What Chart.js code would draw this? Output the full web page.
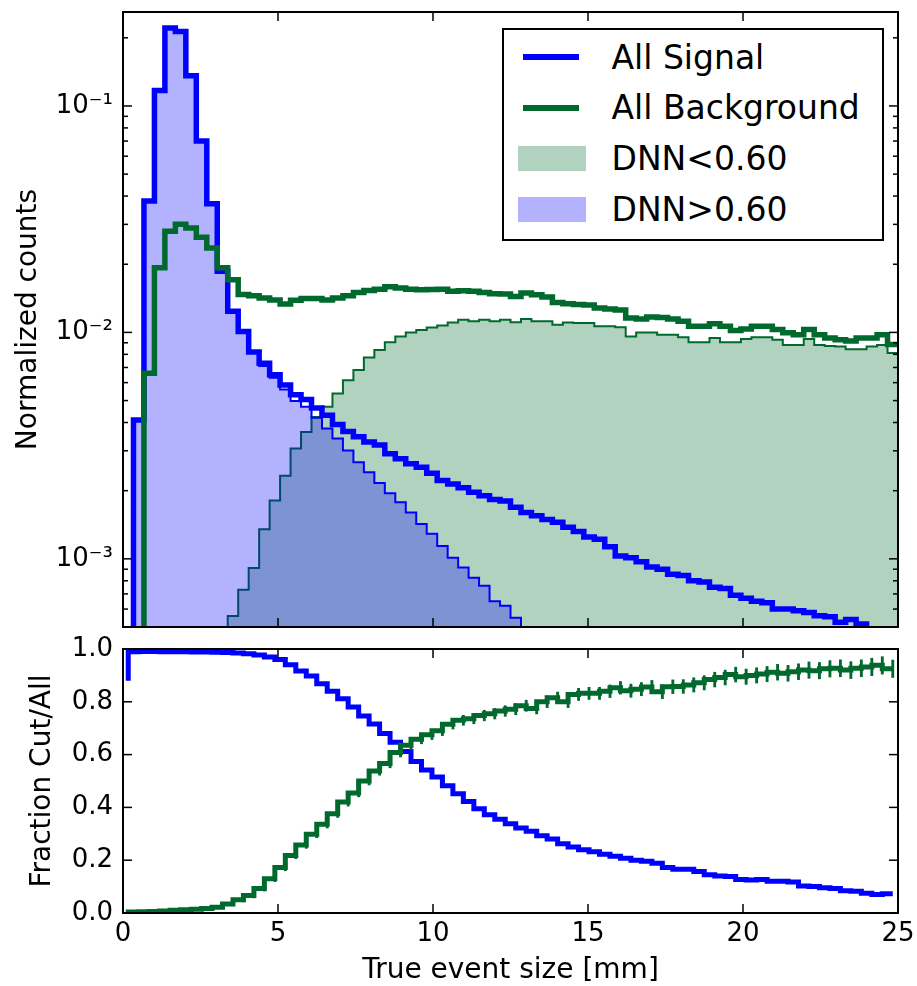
<!DOCTYPE html>
<html>
<head>
<meta charset="utf-8">
<script src="https://cdn.jsdelivr.net/npm/chart.js@4.4.1/dist/chart.umd.min.js"></script>
<style>
  html, body { margin: 0; padding: 0; background: #fff; }
  body { width: 917px; height: 986px; position: relative; overflow: hidden; font-family: 'DejaVu Sans', sans-serif; }
  canvas { position: absolute; left: 0; }
  #countsCanvas { top: 0; }
  #fractionCanvas { top: 626px; }
  #legend { position: absolute; left: 502px; top: 28px; width: 382px; height: 213px; box-sizing: border-box;
            border: 2px solid #000; background: #fff; }
  #legend .swatch { position: absolute; }
  #legend .text { position: absolute; font-family: 'DejaVu Sans', sans-serif; font-size: 33px; line-height: 33px;
                  color: #000; white-space: nowrap; }
</style>
</head>
<body>
<canvas id="countsCanvas" width="917" height="640"></canvas>
<canvas id="fractionCanvas" width="917" height="360"></canvas>
<div id="legend"></div>
<script>
// ---- binning of the true event size (mm) ----
const X_MIN = 0;
const X_MAX = 25;
const N_BINS = 74;

// ---- normalized counts per bin ----
const signalAll = [
  0.00035, 0.0041, 0.038, 0.117, 0.221, 0.213, 0.136, 0.0701, 0.037, 0.0186,
  0.0124, 0.0101, 0.0082, 0.0073, 0.0065, 0.00585, 0.0053, 0.00506, 0.00463, 0.00431,
  0.00392, 0.00365, 0.00346, 0.00328, 0.00318, 0.00291, 0.00277, 0.00263, 0.00254, 0.00239,
  0.00222, 0.00214, 0.00206, 0.00197, 0.0019, 0.00183, 0.0018, 0.00169, 0.0016, 0.00155,
  0.00149, 0.00145, 0.00138, 0.00132, 0.00125, 0.00122, 0.00113, 0.00103, 0.00101, 0.00097,
  0.00092, 0.0009, 0.000855, 0.000845, 0.0008, 0.00079, 0.00075, 0.00074, 0.00069, 0.00067,
  0.00065, 0.00064, 0.0006, 0.0006, 0.00059, 0.00058, 0.00056, 0.000555, 0.000525, 0.00054,
  0.000515, 0.00048, 0.00047, 0.00045
];
const signalCut = [
  0.0003, 0.0041, 0.0379, 0.1168, 0.2205, 0.2125, 0.1357, 0.0699, 0.0368, 0.0185,
  0.0123, 0.00995, 0.0081, 0.0071, 0.0063, 0.0056, 0.00498, 0.0047, 0.0042, 0.00376,
  0.0034, 0.00301, 0.00267, 0.00241, 0.00216, 0.00195, 0.00178, 0.0016, 0.001425, 0.00129,
  0.00114, 0.00101, 0.000915, 0.000826, 0.00076, 0.00065, 0.00062, 0.00055, 0.00048, 0.00045,
  0.00042, 0.00039, 0.00035, 0.00032, 0.0003, 0.00028, 0.00025, 0.00022, 0.00021, 0.00019,
  0.00018, 0.00017, 0.000145, 0.00014, 0.000133, 0.000124, 0.000109, 0.000104, 0.000095, 0.000085,
  0.000081, 0.000081, 0.000072, 0.000072, 0.000069, 0.000059, 0.000056, 0.000053, 0.000049, 0.000045,
  0.000042, 0.000036, 0.000033, 0.000033
];
const backgroundAll = [
  0.0002, 0.0004, 0.0066, 0.0193, 0.028, 0.03, 0.0289, 0.0263, 0.0236, 0.0193,
  0.0171, 0.0147, 0.0145, 0.0142, 0.0139, 0.01335, 0.01385, 0.0141, 0.0141, 0.0139,
  0.0142, 0.0145, 0.015, 0.01532, 0.01552, 0.0159, 0.0157, 0.0155, 0.01542, 0.01545,
  0.01552, 0.0152, 0.01527, 0.0152, 0.015, 0.0148, 0.01478, 0.0144, 0.01492, 0.01467,
  0.01434, 0.01356, 0.01337, 0.01328, 0.0132, 0.0128, 0.0127, 0.01257, 0.01159, 0.01147,
  0.0117, 0.01165, 0.01147, 0.0112, 0.01064, 0.01064, 0.01092, 0.01064, 0.0102, 0.01036,
  0.01064, 0.01064, 0.0103, 0.00997, 0.00977, 0.0103, 0.00977, 0.00944, 0.00927, 0.00917,
  0.00944, 0.00944, 0.00977, 0.00885
];
const backgroundCut = [
  0.000001, 0.000002, 0.00003, 0.0001, 0.00017, 0.00022, 0.00027, 0.0003, 0.00034, 0.00039,
  0.000559, 0.00073, 0.00091, 0.00135, 0.00181, 0.00233, 0.00307, 0.00363, 0.00423, 0.00469,
  0.00537, 0.00615, 0.00682, 0.00774, 0.00836, 0.00904, 0.00958, 0.00998, 0.01026, 0.0105,
  0.01072, 0.01105, 0.01136, 0.0112, 0.01136, 0.0112, 0.01136, 0.0111, 0.01147, 0.0112,
  0.0112, 0.0108, 0.01105, 0.011, 0.011, 0.01064, 0.01064, 0.01055, 0.00958, 0.00998,
  0.00998, 0.00977, 0.00977, 0.00953, 0.00904, 0.00904, 0.00944, 0.00904, 0.00904, 0.00934,
  0.00953, 0.00953, 0.00927, 0.0088, 0.0088, 0.00934, 0.0088, 0.0087, 0.00866, 0.00843,
  0.00843, 0.00866, 0.0088, 0.00812
];

// ---- fraction passing the cut, per bin ----
const signalFraction = [
  0.88, 0.99, 0.991, 0.991, 0.99, 0.99, 0.99, 0.989, 0.989, 0.988,
  0.987, 0.985, 0.982, 0.977, 0.97, 0.96, 0.94, 0.917, 0.898, 0.868,
  0.84, 0.812, 0.78, 0.746, 0.716, 0.68, 0.647, 0.612, 0.574, 0.542,
  0.515, 0.482, 0.452, 0.422, 0.395, 0.372, 0.355, 0.338, 0.322, 0.31,
  0.293, 0.28, 0.262, 0.25, 0.24, 0.232, 0.223, 0.215, 0.207, 0.2,
  0.196, 0.188, 0.172, 0.166, 0.166, 0.157, 0.145, 0.14, 0.138, 0.127,
  0.125, 0.127, 0.12, 0.12, 0.117, 0.102, 0.1, 0.096, 0.093, 0.084,
  0.082, 0.075, 0.07, 0.073
];
const backgroundFraction = [
  0.003, 0.004, 0.005, 0.006, 0.008, 0.01, 0.012, 0.014, 0.017, 0.022,
  0.034, 0.05, 0.066, 0.093, 0.13, 0.172, 0.218, 0.258, 0.298, 0.336,
  0.376, 0.42, 0.455, 0.5, 0.538, 0.566, 0.608, 0.635, 0.658, 0.675,
  0.69, 0.715, 0.73, 0.736, 0.748, 0.755, 0.765, 0.772, 0.785, 0.775,
  0.8, 0.815, 0.8, 0.828, 0.832, 0.832, 0.84, 0.853, 0.842, 0.848,
  0.856, 0.838, 0.857, 0.858, 0.864, 0.872, 0.884, 0.892, 0.903, 0.895,
  0.9, 0.905, 0.912, 0.908, 0.914, 0.92, 0.918, 0.925, 0.927, 0.92,
  0.927, 0.932, 0.938, 0.925
];
const backgroundFractionErr = [
  0.003, 0.003, 0.003, 0.003, 0.004, 0.004, 0.004, 0.005, 0.005, 0.006,
  0.007, 0.008, 0.009, 0.01, 0.011, 0.012, 0.012, 0.013, 0.013, 0.014,
  0.014, 0.015, 0.015, 0.015, 0.016, 0.016, 0.017, 0.017, 0.017, 0.018,
  0.018, 0.018, 0.019, 0.019, 0.02, 0.02, 0.02, 0.021, 0.021, 0.021,
  0.022, 0.022, 0.022, 0.023, 0.023, 0.023, 0.024, 0.024, 0.025, 0.025,
  0.025, 0.026, 0.026, 0.026, 0.027, 0.027, 0.028, 0.028, 0.028, 0.029,
  0.029, 0.029, 0.03, 0.03, 0.03, 0.031, 0.031, 0.031, 0.032, 0.032,
  0.032, 0.033, 0.033, 0.033
];

// ---- axis ticks ----
const xTicks = [0, 5, 10, 15, 20, 25];
const xTickLabels = ['0', '5', '10', '15', '20', '25'];
const countTicks = [0.001, 0.01, 0.1];
const countTickLabels = ['10\u207B\u00B3', '10\u207B\u00B2', '10\u207B\u00B9'];
const fractionTicks = [0, 0.2, 0.4, 0.6, 0.8, 1.0];
const fractionTickLabels = ['0.0', '0.2', '0.4', '0.6', '0.8', '1.0'];

// ---- styling ----
const BLUE = 'rgb(0,0,255)';
const BLUE_FILL = 'rgba(0,0,255,0.3)';
const GREEN = 'rgb(0,105,45)';
const GREEN_FILL = 'rgba(0,105,45,0.3)';
const FONT = "'DejaVu Sans', sans-serif";
const THICK = 5.5;
const THIN = 2;

// ---- derived tables for the library ----
const binWidth = (X_MAX - X_MIN) / N_BINS;
const binEdges = Array.from({ length: N_BINS + 1 }, (_, i) => X_MIN + i * binWidth);
const binCenters = binEdges.slice(0, -1).map(e => e + binWidth / 2);

// histogram outline: each bin value held from its left edge to the next edge
function histSteps(values) {
  const pts = values.map((v, i) => ({ x: binEdges[i], y: v }));
  pts.push({ x: binEdges[N_BINS], y: values[N_BINS - 1] });
  return pts;
}
function centerPoints(values) {
  return values.map((v, i) => ({ x: binCenters[i], y: v }));
}

// keep the plot frame exactly where the layout puts it (no label overhang)
function fixedWidth(w) {
  return s => { s.width = w; s.paddingTop = 0; s.paddingBottom = 0; s.paddingLeft = 0; s.paddingRight = 0; };
}
function fixedHeight(h) {
  return s => { s.height = h; s.paddingTop = 0; s.paddingBottom = 0; s.paddingLeft = 0; s.paddingRight = 0; };
}

// inward tick marks on all four sides plus the axes frame
function framePlugin(xValues, yTickList) {
  return {
    id: 'frameTicks',
    afterDatasetsDraw(chart) {
      const { ctx, chartArea: a, scales } = chart;
      ctx.save();
      ctx.strokeStyle = '#000';
      ctx.lineWidth = 1.5;
      const seg = (x1, y1, x2, y2) => { ctx.beginPath(); ctx.moveTo(x1, y1); ctx.lineTo(x2, y2); ctx.stroke(); };
      xValues.forEach(v => {
        const px = scales.x.getPixelForValue(v);
        seg(px, a.bottom, px, a.bottom - 9);
        seg(px, a.top, px, a.top + 9);
      });
      yTickList.forEach(t => {
        const py = scales.y.getPixelForValue(t.value);
        if (py < a.top - 0.5 || py > a.bottom + 0.5) return;
        const len = t.major ? 9 : 5;
        seg(a.left, py, a.left + len, py);
        seg(a.right, py, a.right - len, py);
      });
      ctx.lineWidth = 2;
      ctx.strokeRect(a.left, a.top, a.right - a.left, a.bottom - a.top);
      ctx.restore();
    }
  };
}

// log-axis decoration: decades plus 2..9 sub-ticks
const COUNT_MIN = 5e-4, COUNT_MAX = 0.26;
const countTickMarks = [];
for (let e = -4; e <= -1; e++) {
  for (let m = 1; m <= 9; m++) {
    const v = m * Math.pow(10, e);
    if (v >= COUNT_MIN && v <= COUNT_MAX) countTickMarks.push({ value: v, major: m === 1 });
  }
}

const commonTickFont = { family: FONT, size: 26 };
const titleFont = { family: FONT, size: 28, lineHeight: 1 };

// ---- upper panel: normalized counts ----
const countsChart = new Chart(document.getElementById('countsCanvas'), {
  type: 'line',
  data: {
    datasets: [
      { label: 'All Background', data: histSteps(backgroundAll), borderColor: GREEN, backgroundColor: GREEN,
        borderWidth: THICK, stepped: true, fill: false, pointRadius: 0 },
      { label: 'All Signal', data: histSteps(signalAll), borderColor: BLUE, backgroundColor: BLUE,
        borderWidth: THICK, stepped: true, fill: false, pointRadius: 0 },
      { label: 'DNN>0.60', data: histSteps(signalCut), borderColor: BLUE, backgroundColor: BLUE_FILL,
        borderWidth: THIN, stepped: true, fill: 'start', pointRadius: 0 },
      { label: 'DNN<0.60', data: histSteps(backgroundCut), borderColor: GREEN, backgroundColor: GREEN_FILL,
        borderWidth: THIN, stepped: true, fill: 'start', pointRadius: 0 }
    ]
  },
  options: {
    responsive: false,
    animation: false,
    devicePixelRatio: 1,
    layout: { padding: { left: 0, top: 12, right: 19, bottom: 13 } },
    plugins: { legend: { display: false }, tooltip: { enabled: false } },
    elements: { line: { borderJoinStyle: 'miter', borderCapStyle: 'butt' } },
    scales: {
      x: { type: 'linear', min: X_MIN, max: X_MAX, display: false },
      y: {
        type: 'logarithmic', min: COUNT_MIN, max: COUNT_MAX,
        afterBuildTicks: s => { s.ticks = countTicks.map(v => ({ value: v, major: true })); },
        afterFit: fixedWidth(123),
        grid: { display: false, drawTicks: false },
        border: { display: false },
        ticks: { autoSkip: false, color: '#000', font: commonTickFont, padding: 10,
                 callback: (v, i) => countTickLabels[i] },
        title: { display: true, text: 'Normalized counts', color: '#000', font: titleFont,
                 padding: { top: 15, bottom: 0 } }
      }
    }
  },
  plugins: [framePlugin(xTicks, countTickMarks)]
});

// ---- lower panel: fraction passing the cut ----
const errorBars = binCenters.map((c, i) => ({
  x: c, y: [backgroundFraction[i] - backgroundFractionErr[i], backgroundFraction[i] + backgroundFractionErr[i]]
}));

new Chart(document.getElementById('fractionCanvas'), {
  type: 'line',
  data: {
    datasets: [
      { label: 'Background fraction', data: centerPoints(backgroundFraction), borderColor: GREEN,
        borderWidth: 5, stepped: 'after', fill: false, pointRadius: 0 },
      { type: 'bar', label: 'Background fraction error', data: errorBars, backgroundColor: GREEN,
        borderWidth: 0, barThickness: 2.2, grouped: false },
      { label: 'Signal fraction', data: centerPoints(signalFraction), borderColor: BLUE,
        borderWidth: 5, stepped: 'after', fill: false, pointRadius: 0 }
    ]
  },
  options: {
    responsive: false,
    animation: false,
    devicePixelRatio: 1,
    layout: { padding: { left: 0, top: 23, right: 19, bottom: 0 } },
    plugins: { legend: { display: false }, tooltip: { enabled: false } },
    elements: { line: { borderJoinStyle: 'miter', borderCapStyle: 'butt' } },
    scales: {
      x: {
        type: 'linear', min: X_MIN, max: X_MAX, offset: false,
        afterBuildTicks: s => { s.ticks = xTicks.map(v => ({ value: v })); },
        afterFit: fixedHeight(73),
        grid: { display: false, drawTicks: false, offset: false },
        border: { display: false },
        ticks: { autoSkip: false, maxRotation: 0, color: '#000', font: commonTickFont, padding: 6,
                 callback: (v, i) => xTickLabels[i] },
        title: { display: true, text: 'True event size [mm]', color: '#000', font: titleFont,
                 padding: { top: 0, bottom: 1 } }
      },
      y: {
        type: 'linear', min: 0, max: 1,
        afterBuildTicks: s => { s.ticks = fractionTicks.map(v => ({ value: v })); },
        afterFit: fixedWidth(123),
        grid: { display: false, drawTicks: false },
        border: { display: false },
        ticks: { autoSkip: false, color: '#000', font: commonTickFont, padding: 10,
                 callback: (v, i) => fractionTickLabels[i] },
        title: { display: true, text: 'Fraction Cut/All', color: '#000', font: titleFont,
                 padding: { top: 29, bottom: 0 } }
      }
    }
  },
  plugins: [framePlugin(xTicks, fractionTicks.map(v => ({ value: v, major: true })))]
});

// ---- legend, built from the upper panel's datasets ----
const legendEntries = [
  { label: 'All Signal', kind: 'line' },
  { label: 'All Background', kind: 'line' },
  { label: 'DNN<0.60', kind: 'patch' },
  { label: 'DNN>0.60', kind: 'patch' }
];
(function buildLegend(chart) {
  const box = document.getElementById('legend');
  const firstRow = 27, rowGap = 50.7;
  legendEntries.forEach((entry, row) => {
    const ds = chart.data.datasets.find(d => d.label === entry.label);
    const cy = firstRow + row * rowGap;
    const sw = document.createElement('div');
    sw.className = 'swatch';
    if (entry.kind === 'line') {
      Object.assign(sw.style, { left: '19px', width: '56px', top: (cy - 3) + 'px', height: '6px', background: ds.borderColor });
    } else {
      Object.assign(sw.style, { left: '14px', width: '68px', top: (cy - 12.5) + 'px', height: '25px', background: ds.backgroundColor });
    }
    box.appendChild(sw);
    const tx = document.createElement('div');
    tx.className = 'text';
    tx.textContent = entry.label;
    Object.assign(tx.style, { left: '107.5px', top: (cy - 16.5) + 'px' });
    box.appendChild(tx);
  });
})(countsChart);
</script>
</body>
</html>
